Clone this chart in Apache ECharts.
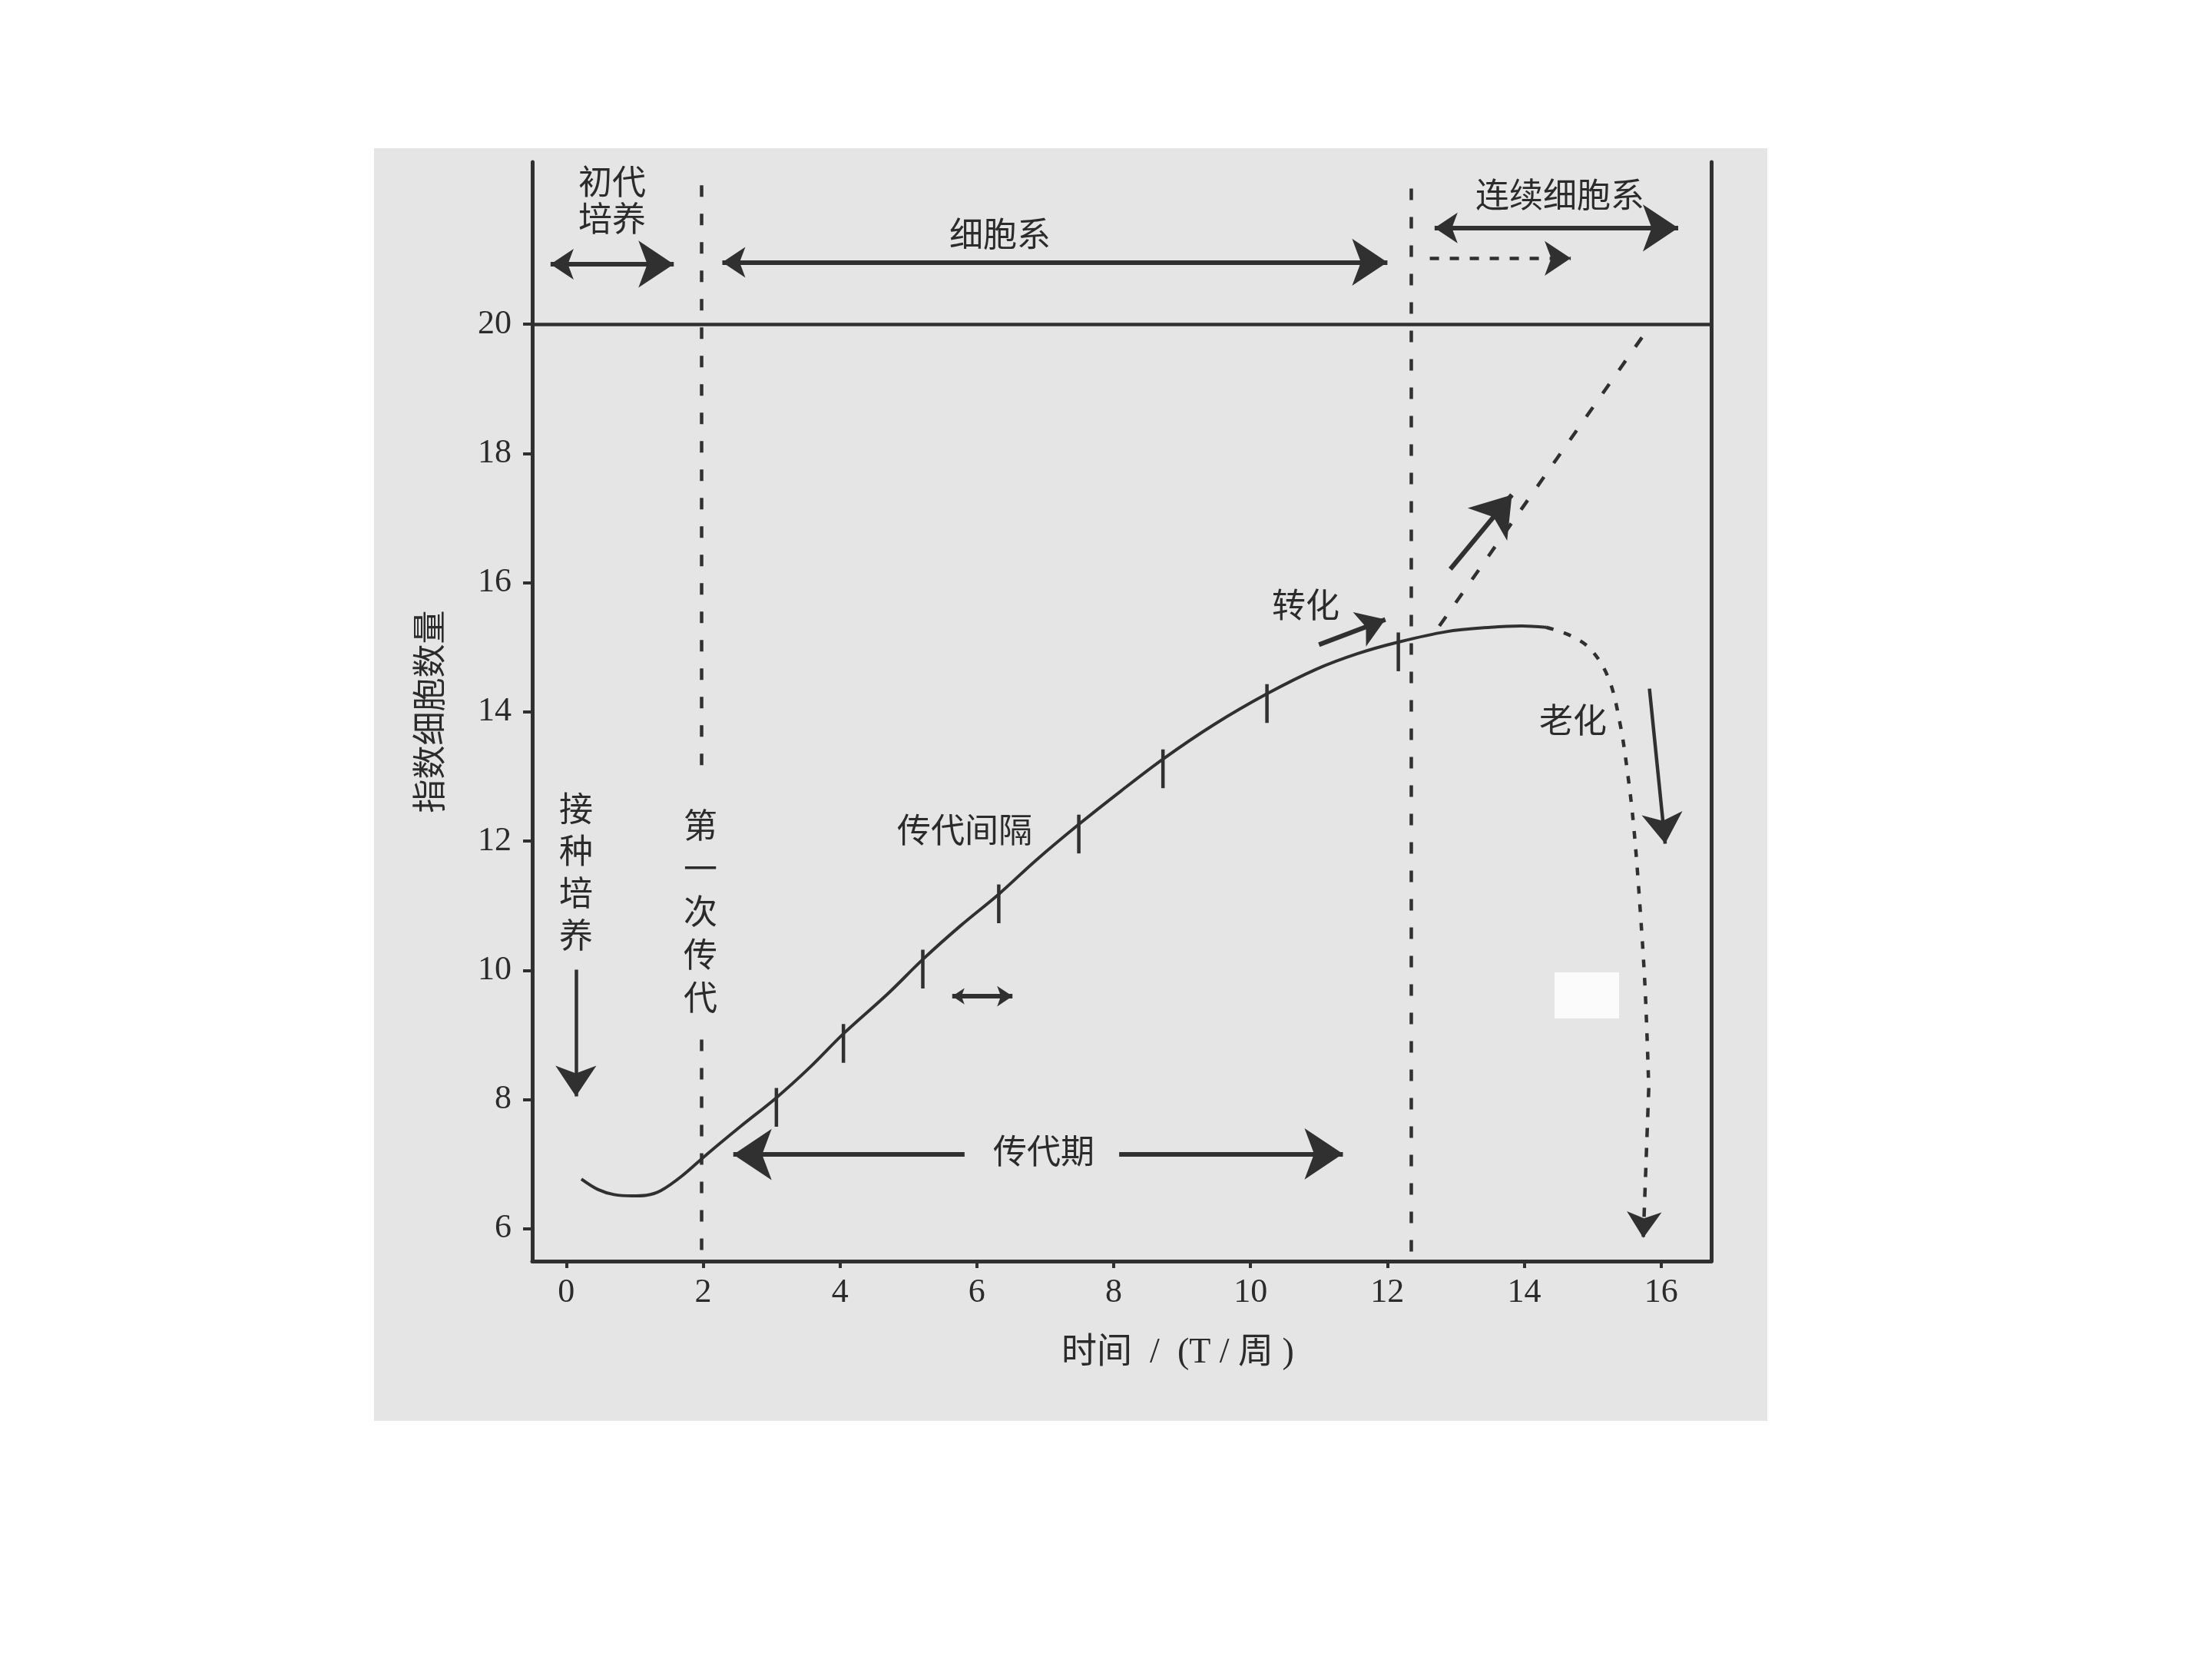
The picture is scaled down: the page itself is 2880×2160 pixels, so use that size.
<!DOCTYPE html>
<html><head><meta charset="utf-8">
<script src="https://cdn.jsdelivr.net/npm/echarts@6/dist/echarts.min.js"></script>
<style>html,body{margin:0;padding:0;background:#fff}#c{width:2880px;height:2160px}</style>
</head><body><div id="c"></div>
<script>
// ---- data ----
const xTickValues = [0, 2, 4, 6, 8, 10, 12, 14, 16];
const yTickValues = [6, 8, 10, 12, 14, 16, 18, 20];

// growth curve (solid)
const growthX = [0.22, 0.46, 0.70, 0.96, 1.17, 1.38, 1.68, 2.05, 2.54, 3.07, 3.56, 4.05, 4.70, 5.21, 5.76, 6.32, 6.86, 7.49, 8.11, 8.72, 9.46, 10.24, 10.96, 11.56, 12.16, 12.85, 13.51, 13.96, 14.32];
const growthY = [6.77, 6.61, 6.53, 6.51, 6.52, 6.59, 6.81, 7.15, 7.58, 8.03, 8.50, 9.02, 9.64, 10.17, 10.69, 11.18, 11.70, 12.26, 12.78, 13.27, 13.80, 14.28, 14.66, 14.90, 15.08, 15.24, 15.31, 15.33, 15.31];

// senescence curve (dotted)
const senescenceX = [14.32, 14.68, 14.98, 15.24, 15.40, 15.50, 15.60, 15.70, 15.77, 15.82];
const senescenceY = [15.31, 15.18, 14.96, 14.50, 13.82, 13.14, 12.23, 10.86, 9.64, 8.18];
const senescenceTail = [[15.82, 8.18], [15.74, 5.86]];

// passage marks on the curve
const passageX = [3.07, 4.05, 5.21, 6.32, 7.49, 8.72, 10.24, 12.16];
const passageY = [8.03, 9.02, 10.17, 11.18, 12.26, 13.27, 14.28, 15.08];

// reference lines
const limitLevel = 20;
const firstPassageUpper = [[1.97, 22.15], [1.97, 12.96]];
const firstPassageLower = [[1.97, 8.93], [1.97, 5.50]];
const secondPassageLine = [[12.35, 22.1], [12.35, 5.50]];
const transformLine = [[12.76, 15.33], [15.73, 19.81]];

// arrows
const primaryCultureArrow = [[-0.23, 20.93], [1.57, 20.93]];
const cellLineArrow = [[2.28, 20.96], [12.0, 20.96]];
const continuousLineArrow = [[12.69, 21.49], [16.25, 21.49]];
const continuousDashArrow = [[12.62, 21.02], [14.68, 21.02]];
const inoculationArrow = [[0.14, 10.01], [0.14, 8.05]];
const passagePeriodLeft = [[5.82, 7.15], [2.44, 7.15]];
const passagePeriodRight = [[8.08, 7.16], [11.35, 7.16]];
const intervalArrow = [[5.64, 9.6], [6.52, 9.6]];
const transformArrow = [[11.0, 15.04], [11.97, 15.43]];
const transformUpArrow = [[12.92, 16.21], [13.82, 17.36]];
const senescenceArrow = [[15.83, 14.36], [16.06, 11.96]];

// ---- chart ----
const X_MIN = -0.498, X_MAX = 16.733, Y_MIN = 5.50, Y_MAX = 22.51;
const INK = '#303030';
const TXT = '#2b2b2b';
const FONT = '"Liberation Serif", "Noto Sans CJK SC", serif';

const zip = (xs, ys) => xs.map((x, i) => [x, ys[i]]);

const chart = echarts.init(document.getElementById('c'), null, {renderer: 'canvas'});

function txt(text, x, y, extra) {
  return {
    type: 'text', x: x, y: y, z: 50,
    style: Object.assign({
      text: text, fontSize: 44, fontFamily: FONT, fill: TXT,
      align: 'center', verticalAlign: 'middle',
      textAlign: 'center', textVerticalAlign: 'middle'
    }, extra || {})
  };
}

const option = {
  backgroundColor: '#ffffff',
  animation: false,
  grid: {left: 693, right: 652, top: 211, bottom: 518, containLabel: false},
  xAxis: {
    type: 'value', min: X_MIN, max: X_MAX,
    axisLine: {show: true, onZero: false, lineStyle: {color: INK, width: 5}},
    axisTick: {show: true, customValues: xTickValues, length: 9, lineStyle: {color: INK, width: 4}},
    axisLabel: {customValues: xTickValues, fontSize: 44, fontFamily: FONT, color: TXT, margin: 19},
    splitLine: {show: false},
    name: '时间  /  (T / 周 )', nameLocation: 'middle', nameGap: 97,
    nameTextStyle: {fontSize: 46, fontFamily: FONT, color: TXT, padding: [0, 0, 0, 146]}
  },
  yAxis: [{
    type: 'value', min: Y_MIN, max: Y_MAX, position: 'left',
    axisLine: {show: true, onZero: false, lineStyle: {color: INK, width: 5}},
    axisTick: {show: true, customValues: yTickValues, length: 12, lineStyle: {color: INK, width: 4}},
    axisLabel: {customValues: yTickValues, fontSize: 44, fontFamily: FONT, color: TXT, margin: 27},
    splitLine: {show: false},
    name: '指数细胞数量', nameLocation: 'middle', nameRotate: 90, nameGap: 108,
    nameTextStyle: {fontSize: 44, fontFamily: FONT, color: TXT}
  }, {
    type: 'value', min: Y_MIN, max: Y_MAX, position: 'right',
    axisLine: {show: true, onZero: false, lineStyle: {color: INK, width: 5}},
    axisTick: {show: false}, axisLabel: {show: false}, splitLine: {show: false}
  }],
  graphic: [
    {type: 'rect', z: -100, silent: true, shape: {x: 487, y: 193, width: 1814, height: 1657}, style: {fill: '#e5e5e5'}},
    {type: 'rect', z: -90, silent: true, shape: {x: 2024, y: 1266, width: 84, height: 60}, style: {fill: '#fbfbfb'}},
    txt('初代', 797, 241),
    txt('培养', 797, 289),
    txt('细胞系', 1302, 309),
    txt('连续细胞系', 2031, 258),
    txt('接\n种\n培\n养', 750, 1140, {lineHeight: 55}),
    txt('第\n一\n次\n传\n代', 912, 1191, {lineHeight: 56}),
    txt('传代间隔', 1256, 1085),
    txt('传代期', 1359, 1503),
    txt('转化', 1700, 792),
    txt('老化', 2048, 942)
  ],
  series: [
    {
      name: 'growth', type: 'line', data: zip(growthX, growthY), smooth: 0.35,
      showSymbol: false, lineStyle: {color: INK, width: 4}, z: 5
    },
    {
      name: 'senescence', type: 'line', data: zip(senescenceX, senescenceY), smooth: 0.35,
      showSymbol: false, lineStyle: {color: INK, width: 4.5, type: [10, 14]}, z: 5
    },
    {
      name: 'passage marks', type: 'custom', z: 6,
      data: zip(passageX, passageY),
      renderItem: function (params, api) {
        const x = api.value(0), y = api.value(1);
        const p1 = api.coord([x, y + 0.15]);
        const p2 = api.coord([x, y - 0.45]);
        return {type: 'line', shape: {x1: p1[0], y1: p1[1], x2: p2[0], y2: p2[1]},
          style: {stroke: INK, lineWidth: 4.5}};
      }
    },
    {
      name: 'limit', type: 'lines', coordinateSystem: 'cartesian2d', z: 4,
      symbol: ['none', 'none'],
      lineStyle: {color: INK, width: 4.5, opacity: 1},
      data: [{coords: [[X_MIN, limitLevel], [X_MAX, limitLevel]]}]
    },
    {
      name: 'dashed guides', type: 'lines', coordinateSystem: 'cartesian2d', z: 4,
      symbol: ['none', 'none'],
      lineStyle: {color: INK, width: 4.5, type: [15, 22], opacity: 1},
      data: [{coords: firstPassageUpper}, {coords: firstPassageLower}, {coords: secondPassageLine}, {coords: transformLine}]
    },
    {
      name: 'double arrows', type: 'lines', coordinateSystem: 'cartesian2d', z: 7,
      symbol: ['arrow', 'arrow'], symbolSize: [30, 46],
      lineStyle: {color: INK, width: 6, opacity: 1},
      data: [{coords: primaryCultureArrow}, {coords: cellLineArrow}, {coords: continuousLineArrow}]
    },
    {
      name: 'single arrows', type: 'lines', coordinateSystem: 'cartesian2d', z: 7,
      symbol: ['none', 'arrow'], symbolSize: [32, 50],
      lineStyle: {color: INK, width: 6, opacity: 1},
      data: [{coords: passagePeriodLeft}, {coords: passagePeriodRight}, {coords: transformUpArrow}]
    },
    {
      name: 'transform arrow', type: 'lines', coordinateSystem: 'cartesian2d', z: 7,
      symbol: ['none', 'arrow'], symbolSize: [24, 36],
      lineStyle: {color: INK, width: 6, opacity: 1},
      data: [{coords: transformArrow}]
    },
    {
      name: 'thin arrows', type: 'lines', coordinateSystem: 'cartesian2d', z: 7,
      symbol: ['none', 'arrow'], symbolSize: [24, 40],
      lineStyle: {color: INK, width: 4.5, opacity: 1},
      data: [{coords: inoculationArrow}, {coords: senescenceArrow}]
    },
    {
      name: 'dashed arrows', type: 'lines', coordinateSystem: 'cartesian2d', z: 7,
      symbol: ['none', 'arrow'], symbolSize: [22, 34],
      lineStyle: {color: INK, width: 4.5, type: [12, 14], opacity: 1},
      data: [{coords: continuousDashArrow}, {coords: senescenceTail}]
    },
    {
      name: 'interval arrow', type: 'lines', coordinateSystem: 'cartesian2d', z: 7,
      symbol: ['arrow', 'arrow'], symbolSize: [16, 20],
      lineStyle: {color: INK, width: 6, opacity: 1},
      data: [{coords: intervalArrow}]
    }
  ]
};
chart.setOption(option);
</script>
</body></html>
